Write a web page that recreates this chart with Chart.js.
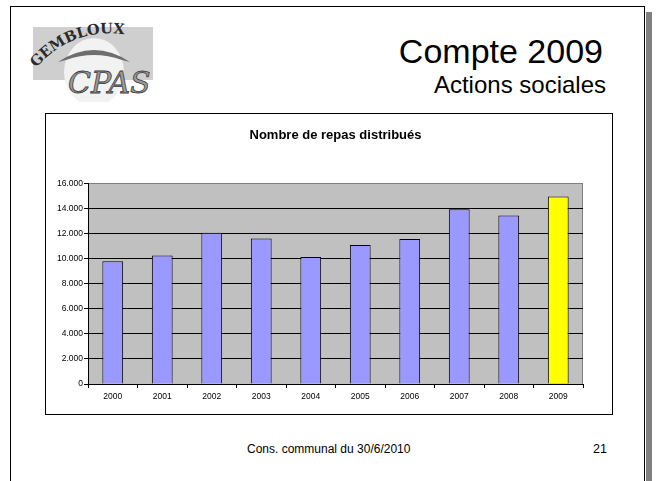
<!DOCTYPE html>
<html>
<head>
<meta charset="utf-8">
<script src="https://cdn.jsdelivr.net/npm/chart.js@4/dist/chart.umd.min.js"></script>
<style>
  html, body { margin: 0; padding: 0; background: #fff; }
  body { width: 656px; height: 481px; overflow: hidden; position: relative; font-family: "Liberation Sans", Arial, sans-serif; }
  #slide { position: absolute; left: 10px; top: 6px; width: 635px; height: 500px; border: 1px solid #000; box-sizing: border-box; }
  #ombre { position: absolute; left: 646px; top: 12px; width: 6px; height: 480px; background: #808080; }
  #logo { position: absolute; left: 30px; top: 22px; }
  .txt { position: absolute; white-space: nowrap; color: #000; line-height: 1; }
  #titre { right: 53px; top: 34px; font-size: 34px; }
  #soustitre { right: 50px; top: 73px; font-size: 24px; }
  #pied { left: 247px; top: 443px; font-size: 12px; }
  #page { right: 49px; top: 443px; font-size: 12.5px; }
  #cadre { position: absolute; left: 45px; top: 113px; width: 568px; height: 302px; border: 1px solid #000; box-sizing: border-box; }
  #repas { position: absolute; left: 0; top: 0; }
</style>
</head>
<body>
<div id="slide"></div>
<div id="ombre"></div>

<!-- logo CPAS Gembloux -->
<svg id="logo" width="130" height="80" viewBox="30 22 130 80">
  <rect x="33" y="27" width="120" height="53" fill="#cfcfcf"/>
  <ellipse cx="94" cy="72" rx="30" ry="34" fill="#f2f2f2"/>
  <path d="M58 62 Q94 38 130 62 L122 60 Q94 50 66 60 Z" fill="#6e6e6e"/>
  <defs><path id="arc" d="M36 68 Q82 16 154 42"/></defs>
  <text font-family="DejaVu Serif, serif" font-weight="bold" font-size="14.5" fill="#2a2a2a">
    <textPath href="#arc">GEMBLOUX</textPath>
  </text>
  <text x="68" y="93" font-family="DejaVu Serif, serif" font-style="italic" font-size="30" fill="#9a9a9a" stroke="#3a3a3a" stroke-width="0.8">CPAS</text>
</svg>

<div class="txt" id="titre">Compte 2009</div>
<div class="txt" id="soustitre">Actions sociales</div>

<div id="cadre"><canvas id="repas" width="566" height="300"></canvas></div>

<div class="txt" id="pied">Cons. communal du 30/6/2010</div>
<div class="txt" id="page">21</div>

<script>
// Nombre de repas distribués par année
const annees = ['2000', '2001', '2002', '2003', '2004', '2005', '2006', '2007', '2008', '2009'];
const repas = [9800, 10260, 12080, 11620, 10130, 11090, 11570, 13950, 13460, 14980];
const couleurs = ['#9999FF', '#9999FF', '#9999FF', '#9999FF', '#9999FF', '#9999FF', '#9999FF', '#9999FF', '#9999FF', '#FFFF00'];
const graduations = [0, 2000, 4000, 6000, 8000, 10000, 12000, 14000, 16000];
const etiquettesY = ['0', '2.000', '4.000', '6.000', '8.000', '10.000', '12.000', '14.000', '16.000'];

// fond gris de la zone de tracé + bord droit
const fondZone = {
    id: 'fondZone',
    beforeDraw(chart) {
        const a = chart.chartArea;
        const ctx = chart.ctx;
        ctx.save();
        ctx.fillStyle = '#C0C0C0';
        ctx.fillRect(a.left, a.top, a.right - a.left, a.bottom - a.top);
        ctx.strokeStyle = '#808080';
        ctx.lineWidth = 1;
        ctx.beginPath();
        ctx.moveTo(Math.round(a.right) - 0.5, a.top);
        ctx.lineTo(Math.round(a.right) - 0.5, a.bottom);
        ctx.stroke();
        ctx.restore();
    }
};

const police = '"Liberation Sans", Arial, sans-serif';

var canvas = document.getElementById('repas');
if (canvas) {
    var ctx = canvas.getContext('2d');
    var repasChart = new Chart(ctx, {
        type: 'bar',
        data: {
            labels: annees,
            datasets: [{
                data: repas,
                backgroundColor: couleurs,
                borderColor: '#000',
                borderWidth: 1,
                barPercentage: 0.42,
                categoryPercentage: 1
            }]
        },
        options: {
            responsive: false,
            animation: false,
            layout: { padding: { left: 0, right: 29, top: 0, bottom: 0 } },
            plugins: {
                legend: { display: false },
                tooltip: { enabled: false },
                title: {
                    display: true,
                    fullSize: false, // centré au-dessus de la zone de tracé
                    text: 'Nombre de repas distribués',
                    color: '#000',
                    font: { family: police, size: 13, weight: 'bold', lineHeight: 1.2 },
                    padding: { top: 14, bottom: 40 }
                }
            },
            scales: {
                x: {
                    afterFit(scale) { scale.height = 30; },
                    grid: { drawOnChartArea: false, drawTicks: true, tickLength: 4, color: '#000' },
                    border: { display: true, color: '#000' },
                    ticks: { color: '#000', padding: 4, maxRotation: 0, font: { family: police, size: 8.5 } }
                },
                y: {
                    min: 0,
                    max: 16000,
                    afterFit(scale) { scale.width = 42; },
                    afterBuildTicks(scale) { scale.ticks = graduations.map(v => ({ value: v })); },
                    grid: {
                        color: c => (c.tick && c.tick.value === 16000) ? '#808080' : '#000',
                        tickColor: '#000',
                        drawTicks: true,
                        tickLength: 4
                    },
                    border: { display: true, color: '#000' },
                    ticks: {
                        color: '#000',
                        padding: 1,
                        font: { family: police, size: 8.5 },
                        callback: (v, i) => etiquettesY[graduations.indexOf(v)]
                    }
                }
            }
        },
        plugins: [fondZone]
    });
}
</script>
</body>
</html>
